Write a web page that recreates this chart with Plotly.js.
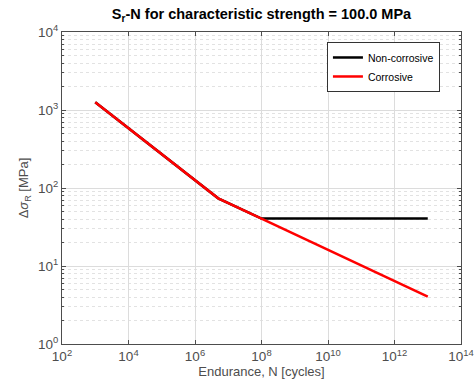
<!DOCTYPE html>
<html>
<head>
<meta charset="utf-8">
<script src="https://cdn.plot.ly/plotly-3.0.1.min.js"></script>
<style>html,body{margin:0;padding:0;background:#fff;}#chart{width:474px;height:392px;}</style>
</head>
<body>
<div id="chart"></div>
<script>
// Data
const enduranceN = [1e3, 5e6, 1e8, 1e13];
const nonCorrosiveS = [1260, 73.7, 40.5, 40.5];
const corrosiveS = [1260, 73.7, 40.5, 4.05];

const xTickVals = [1e2, 1e4, 1e6, 1e8, 1e10, 1e12, 1e14];
const xTickText = ['10<sup>2</sup>', '10<sup>4</sup>', '10<sup>6</sup>', '10<sup>8</sup>', '10<sup>10</sup>', '10<sup>12</sup>', '10<sup>14</sup>'];
const yTickVals = [1, 10, 100, 1000, 10000];
const yTickText = ['10<sup>0</sup>', '10<sup>1</sup>', '10<sup>2</sup>', '10<sup>3</sup>', '10<sup>4</sup>'];

const font = 'Liberation Sans, Arial, sans-serif';
const axisCol = '#4d4d4d';
const gridCol = '#dcdcdc';

const traces = [
  {x: enduranceN, y: nonCorrosiveS, mode: 'lines', name: 'Non-corrosive',
   line: {color: '#000000', width: 2.5}},
  {x: enduranceN, y: corrosiveS, mode: 'lines', name: 'Corrosive',
   line: {color: '#ff0000', width: 2.5}}
];

const layout = {
  width: 474, height: 392,
  margin: {l: 62, r: 13, t: 32, b: 48},
  paper_bgcolor: '#ffffff', plot_bgcolor: '#ffffff',
  font: {family: font, size: 12, color: axisCol},
  title: {text: '<b>S<sub>r</sub>-N for characteristic strength = 100.0 MPa</b>',
          x: 0.5, xref: 'paper', xanchor: 'center', y: 0.965, yref: 'container', yanchor: 'middle',
          font: {family: font, size: 14.5, color: '#000000'}},
  xaxis: {type: 'log', range: [2, 14], tickmode: 'array', tickvals: xTickVals, ticktext: xTickText,
          showgrid: true, gridcolor: gridCol, gridwidth: 1,
          showline: true, linecolor: axisCol, linewidth: 1, mirror: 'ticks',
          ticks: 'inside', ticklen: 4, tickcolor: axisCol, zeroline: false,
          tickfont: {family: font, size: 13.5, color: axisCol},
          title: {text: 'Endurance, N [cycles]', standoff: 2, font: {family: font, size: 13, color: axisCol}}},
  yaxis: {type: 'log', range: [0, 4], tickmode: 'array', tickvals: yTickVals, ticktext: yTickText,
          showgrid: true, gridcolor: gridCol, gridwidth: 1,
          showline: true, linecolor: axisCol, linewidth: 1, mirror: 'ticks',
          ticks: 'inside', ticklen: 4, tickcolor: axisCol, zeroline: false,
          tickfont: {family: font, size: 13.5, color: axisCol},
          minor: {dtick: 'D1', showgrid: true, gridcolor: '#e2e2e2', griddash: 'dot', gridwidth: 1,
                  ticks: 'inside', ticklen: 2, tickcolor: axisCol},
          title: {text: 'Δ<i>σ</i><sub>R</sub> [MPa]', standoff: 6, font: {family: font, size: 13, color: axisCol}}},
  showlegend: true,
  legend: {x: 0.664, y: 0.968, xanchor: 'left', yanchor: 'top',
           bgcolor: '#ffffff', bordercolor: '#333333', borderwidth: 1,
           font: {family: font, size: 10.5, color: '#000000'},
           tracegroupgap: 0, itemwidth: 30}
};

Plotly.newPlot('chart', traces, layout, {displayModeBar: false, staticPlot: true});
</script>
</body>
</html>
